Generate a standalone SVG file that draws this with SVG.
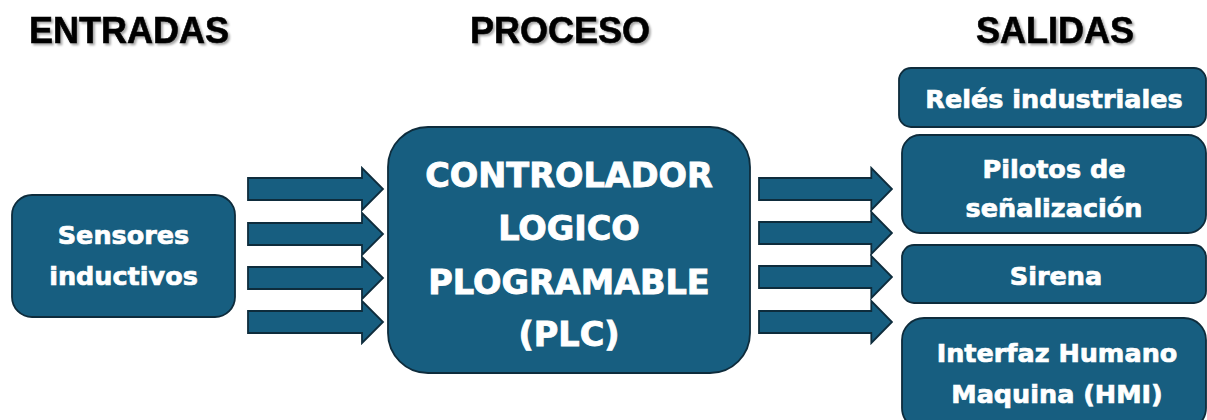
<svg xmlns="http://www.w3.org/2000/svg" width="1207" height="420" viewBox="0 0 1207 420">
  <defs>
    <filter id="titleShadow" x="-10%" y="-30%" width="120%" height="160%">
      <feGaussianBlur in="SourceAlpha" stdDeviation="1.2"/>
      <feOffset dx="1.5" dy="1.5" result="blur"/>
      <feFlood flood-color="#000" flood-opacity="0.35"/>
      <feComposite in2="blur" operator="in"/>
      <feMerge>
        <feMergeNode/>
        <feMergeNode in="SourceGraphic"/>
      </feMerge>
    </filter>
    <!-- block arrow shape, tip at origin's right, centred on y=0 -->
    <polygon id="blockArrow" points="0,-11 114,-11 114,-21 135,0 114,21 114,11 0,11"/>
  </defs>
  <style>
    .title { font-family: "Liberation Sans", Arial, sans-serif; font-weight: 700; font-size: 36px; fill: #000; stroke: #000; stroke-width: 0.6; text-anchor: middle; }
    .box { fill: #175E80; stroke: #0E2C3C; stroke-width: 1.8; }
    .arrow { fill: #175E80; stroke: #0E2C3C; stroke-width: 1.8; stroke-linejoin: miter; }
    .label { font-family: "DejaVu Sans", Verdana, sans-serif; font-weight: 700; font-size: 25.5px; fill: #fff; stroke: #fff; stroke-width: 0.7; text-anchor: middle; }
    .big { font-family: "DejaVu Sans", Verdana, sans-serif; font-weight: 700; font-size: 33.5px; fill: #fff; stroke: #fff; stroke-width: 0.9; text-anchor: middle; }
  </style>

  <!-- column headings -->
  <g id="headings" filter="url(#titleShadow)">
    <text class="title" x="129" y="43">ENTRADAS</text>
    <text class="title" x="560" y="43">PROCESO</text>
    <text class="title" x="1055" y="43">SALIDAS</text>
  </g>

  <!-- input node -->
  <g id="sensores">
    <rect class="box" x="12" y="195" width="223" height="122" rx="20" ry="20"/>
    <text class="label" x="123.5" y="244">Sensores</text>
    <text class="label" x="123.5" y="285">inductivos</text>
  </g>

  <!-- central controller -->
  <g id="plc">
    <rect class="box" x="388" y="127" width="362" height="246" rx="40" ry="40"/>
    <text class="big" x="569" y="187">CONTROLADOR</text>
    <text class="big" x="569" y="240">LOGICO</text>
    <text class="big" x="569" y="294">PLOGRAMABLE</text>
    <text class="big" x="569" y="346">(PLC)</text>
  </g>

  <!-- output nodes -->
  <g id="reles">
    <rect class="box" x="899" y="68" width="307" height="59" rx="12" ry="12"/>
    <text class="label" x="1054" y="108">Relés industriales</text>
  </g>
  <g id="pilotos">
    <rect class="box" x="902" y="135" width="304" height="98" rx="18" ry="18"/>
    <text class="label" x="1054" y="178">Pilotos de</text>
    <text class="label" x="1054" y="217">señalización</text>
  </g>
  <g id="sirena">
    <rect class="box" x="902" y="245" width="304" height="58" rx="12" ry="12"/>
    <text class="label" x="1056" y="285">Sirena</text>
  </g>
  <g id="hmi">
    <rect class="box" x="902" y="318" width="304" height="112" rx="22" ry="22"/>
    <text class="label" x="1057" y="362">Interfaz Humano</text>
    <text class="label" x="1057" y="403">Maquina (HMI)</text>
  </g>

  <!-- connectors: block arrows into and out of the controller -->
  <g id="connectors">
    <use href="#blockArrow" class="arrow" transform="translate(248,189)"/>
    <use href="#blockArrow" class="arrow" transform="translate(248,234)"/>
    <use href="#blockArrow" class="arrow" transform="translate(248,278)"/>
    <use href="#blockArrow" class="arrow" transform="translate(248,322)"/>
    <use href="#blockArrow" class="arrow" transform="translate(759,189) scale(0.985,1)"/>
    <use href="#blockArrow" class="arrow" transform="translate(759,233) scale(0.985,1)"/>
    <use href="#blockArrow" class="arrow" transform="translate(759,277) scale(0.985,1)"/>
    <use href="#blockArrow" class="arrow" transform="translate(759,322) scale(0.985,1)"/>
  </g>
</svg>
